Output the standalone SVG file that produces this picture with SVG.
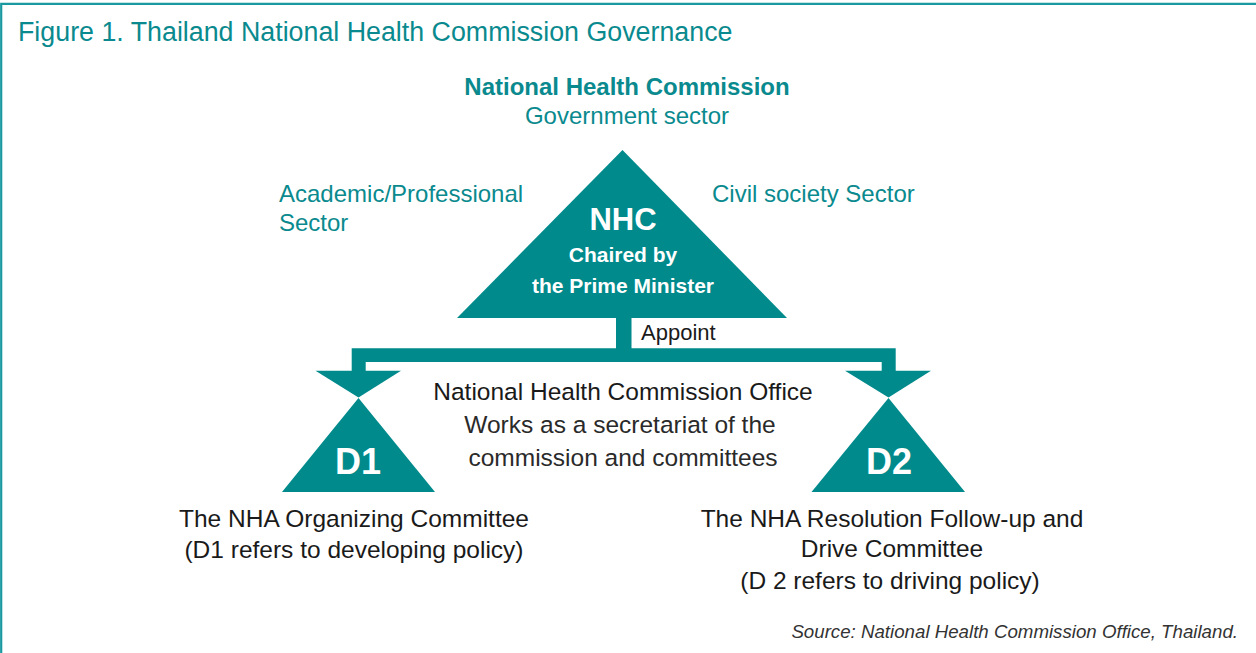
<svg xmlns="http://www.w3.org/2000/svg" width="1256" height="653" viewBox="0 0 1256 653">
<style>
.teal{fill:#008a8c}
.t{font-family:"Liberation Sans",Arial,Helvetica,sans-serif}
.tl{fill:#0a8a8e}
.wb{fill:#ffffff;font-weight:bold}
.blk{fill:#1a1a1a}
</style>
<rect x="0" y="0" width="1256" height="653" fill="#ffffff"/>
<path d="M1.2,653 V3.8 H1256" fill="none" stroke="#1a9aa0" stroke-width="2.2"/>
<text class="t tl" x="18" y="41" font-size="26.8">Figure 1. Thailand National Health Commission Governance</text>
<g id="labels">
<text class="t tl" x="627" y="95" font-size="24" font-weight="bold" text-anchor="middle">National Health Commission</text>
<text class="t tl" x="627" y="124" font-size="24" text-anchor="middle">Government sector</text>
<text class="t tl" x="279" y="202" font-size="24">Academic/Professional</text>
<text class="t tl" x="279" y="231" font-size="24">Sector</text>
<text class="t tl" x="712" y="202" font-size="24">Civil society Sector</text>
</g>
<g id="nhc">
<polygon class="teal" points="622.5,150 787,318 457,318"/>
<text class="t wb" x="623" y="230" font-size="31" text-anchor="middle">NHC</text>
<text class="t wb" x="623" y="262" font-size="21" text-anchor="middle">Chaired by</text>
<text class="t wb" x="623" y="293" font-size="21" text-anchor="middle">the Prime Minister</text>
</g>
<g id="connectors">
<path class="teal" d="M616,318 H631.5 V348.3 H895.7 V371 H881.7 V362 H365.7 V371 H351.7 V348.3 H616 Z"/>
<polygon class="teal" points="315.5,370.7 401,370.7 358.5,397.5"/>
<polygon class="teal" points="845,370.7 931,370.7 888.5,397.5"/>
<text class="t blk" x="641" y="340" font-size="22">Appoint</text>
</g>
<g id="office">
<text class="t blk" x="623" y="400" font-size="24.5" text-anchor="middle">National Health Commission Office</text>
<text class="t" fill="#2a2a2a" x="620" y="433" font-size="24.5" text-anchor="middle">Works as a secretariat of the</text>
<text class="t" fill="#2a2a2a" x="623" y="466" font-size="24.5" text-anchor="middle">commission and committees</text>
</g>
<g id="d1">
<polygon class="teal" points="358.5,398 435,492 282,492"/>
<text class="t wb" x="358" y="474" font-size="36" text-anchor="middle">D1</text>
<text class="t blk" x="354" y="527" font-size="24.5" text-anchor="middle">The NHA Organizing Committee</text>
<text class="t blk" x="354" y="558" font-size="24.5" text-anchor="middle">(D1 refers to developing policy)</text>
</g>
<g id="d2">
<polygon class="teal" points="888.5,398 965,492 811.5,492"/>
<text class="t wb" x="889" y="474" font-size="36" text-anchor="middle">D2</text>
<text class="t blk" x="892" y="527" font-size="24.5" text-anchor="middle">The NHA Resolution Follow-up and</text>
<text class="t blk" x="892" y="557" font-size="24.5" text-anchor="middle">Drive Committee</text>
<text class="t blk" x="890" y="589" font-size="24.5" text-anchor="middle">(D 2 refers to driving policy)</text>
</g>
<text class="t" fill="#333333" x="1238" y="638" font-size="18.7" font-style="italic" text-anchor="end">Source: National Health Commission Office, Thailand.</text>
</svg>
